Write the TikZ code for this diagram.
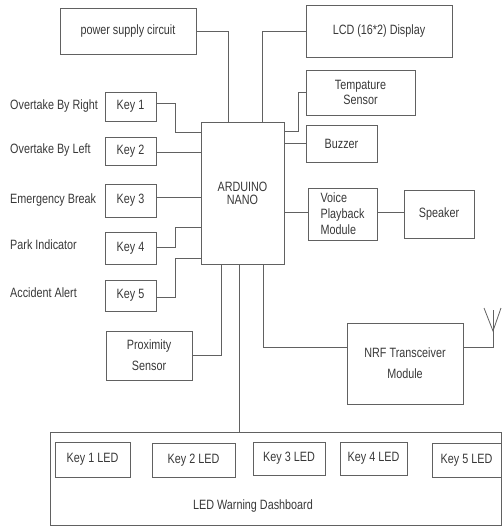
\documentclass[tikz,border=0pt]{standalone}
\usepackage{fontspec}
\setmainfont{Liberation Sans}[FakeStretch=0.8]
\begin{document}
\begin{tikzpicture}[x=1pt,y=-1pt,
  box/.style={draw=black!62, line width=0.9pt, inner sep=0pt, align=center,
    text=black!78, font=\fontsize{13.5}{16}\selectfont},
  lbl/.style={inner sep=0pt, anchor=west, text=black!78, font=\fontsize{13.5}{16}\selectfont},
  wire/.style={draw=black!62, line width=0.8pt}]
\useasboundingbox (0,0) rectangle (502,527);
% boxes
\node[box, minimum width=136, minimum height=46] (psu) at (128,31) {power supply circuit};
\node[box, minimum width=146, minimum height=52] (lcd) at (379,31) {LCD (16*2) Display};
\node[box, minimum width=109, minimum height=45, font=\fontsize{13.5}{15}\selectfont] (temp) at (360.5,92.5) {Tempature\\Sensor};
\node[box, minimum width=71, minimum height=37] (buzz) at (341.5,143.5) {Buzzer};
\node[box, minimum width=69, minimum height=52, align=left] (voice) at (342.5,214) {Voice\\Playback\\Module};
\node[box, minimum width=70, minimum height=48] (spk) at (439,214) {Speaker};
\node[box, minimum width=83, minimum height=142, font=\fontsize{13.5}{13}\selectfont] (ard) at (242.5,193) {ARDUINO\\NANO};
\node[box, minimum width=51, minimum height=29] (k1) at (130.5,106.5) {Key 1};
\node[box, minimum width=51, minimum height=28] (k2) at (130.5,151) {Key 2};
\node[box, minimum width=51, minimum height=33] (k3) at (130.5,200.5) {Key 3};
\node[box, minimum width=51, minimum height=32] (k4) at (130.5,248) {Key 4};
\node[box, minimum width=51, minimum height=31] (k5) at (130.5,295.5) {Key 5};
\node[box, minimum width=86, minimum height=49, font=\fontsize{13.5}{21}\selectfont] (prox) at (149,355.5) {Proximity\\Sensor};
\node[box, minimum width=116, minimum height=81, font=\fontsize{13.5}{21}\selectfont] (nrf) at (405,363.5) {NRF Transceiver\\Module};
\node[box, minimum width=451, minimum height=93] (dash) at (275.5,478.5) {};
\node[box, minimum width=75, minimum height=35] (l1) at (92.5,459.5) {Key 1 LED};
\node[box, minimum width=83, minimum height=34] (l2) at (193.5,460) {Key 2 LED};
\node[box, minimum width=72, minimum height=33] (l3) at (289,458.5) {Key 3 LED};
\node[box, minimum width=67, minimum height=33] (l4) at (373.5,458.5) {Key 4 LED};
\node[box, minimum width=69, minimum height=34] (l5) at (466.5,460) {Key 5 LED};
\node[lbl, anchor=center] (dashlbl) at (253,506) {LED Warning Dashboard};
% left labels
\node[lbl] (t1) at (10,106) {Overtake By Right};
\node[lbl] (t2) at (10,150) {Overtake By Left};
\node[lbl] (t3) at (10,200) {Emergency Break};
\node[lbl] (t4) at (10,245) {Park Indicator};
\node[lbl] (t5) at (10,293) {Accident Alert};
% antenna
\coordinate (ant) at (493,347);
\coordinate (antt) at (493,310);
\coordinate (antv) at (493,331);
\coordinate (antl) at (484,308);
\coordinate (antr) at (501,308);
% connectors
\draw[wire] (psu.east |- 0,31) -| (ard.north -| 228,0);
\draw[wire] (lcd.west) -| (ard.north -| 262,0);
\draw[wire] (temp.west) -| (298,131) -- (ard.east |- 0,131);
\draw[wire] (buzz.west |- 0,143) -- (ard.east |- 0,143);
\draw[wire] (voice.west |- 0,212) -- (ard.east |- 0,212);
\draw[wire] (voice.east |- 0,212) -- (spk.west |- 0,212);
\draw[wire] (k1.east |- 0,103) -| (175,132) -- (ard.west |- 0,132);
\draw[wire] (k2.east |- 0,152) -- (ard.west |- 0,152);
\draw[wire] (k3.east |- 0,197) -- (ard.west |- 0,197);
\draw[wire] (k4.east |- 0,247) -| (175,227) -- (ard.west |- 0,227);
\draw[wire] (k5.east |- 0,297) -| (175,258) -- (ard.west |- 0,258);
\draw[wire] (ard.south -| 221,0) |- (prox.east |- 0,355);
\draw[wire] (ard.south -| 239,0) -- (dash.north -| 239,0);
\draw[wire] (ard.south -| 263,0) |- (nrf.west |- 0,347);
\draw[wire] (nrf.east |- 0,347) -- (ant) -- (antt);
\draw[wire] (antl) -- (antv) -- (antr);
\end{tikzpicture}
\end{document}
